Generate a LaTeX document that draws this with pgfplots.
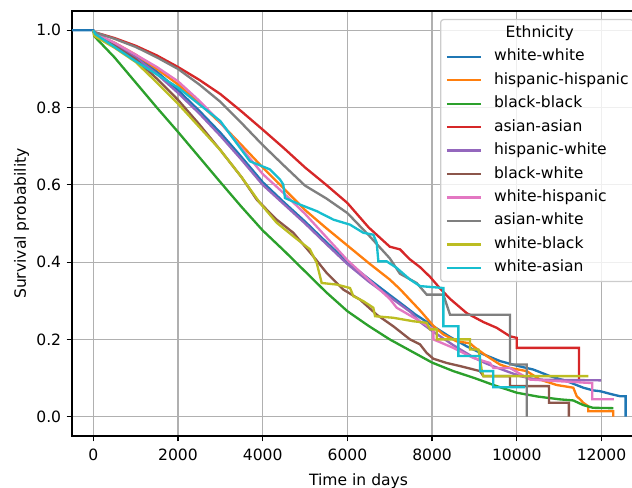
\documentclass[border=0pt]{standalone}
\usepackage{fontspec}
\setmainfont{DejaVu Sans}
\usepackage{pgfplots}
\pgfplotsset{compat=1.18}
\definecolor{c0}{HTML}{1F77B4}
\definecolor{c1}{HTML}{FF7F0E}
\definecolor{c2}{HTML}{2CA02C}
\definecolor{c3}{HTML}{D62728}
\definecolor{c4}{HTML}{9467BD}
\definecolor{c5}{HTML}{8C564B}
\definecolor{c6}{HTML}{E377C2}
\definecolor{c7}{HTML}{7F7F7F}
\definecolor{c8}{HTML}{BCBD22}
\definecolor{c9}{HTML}{17BECF}
\definecolor{gridc}{HTML}{B0B0B0}
\begin{document}
\fontsize{11.2bp}{13.4bp}\selectfont
\begin{tikzpicture}
\begin{axis}[
  name=ax,
  scale only axis,
  width=412.65bp, height=306bp,
  xmin=-503, xmax=13030, ymin=-0.05, ymax=1.05,
  xtick={0,2000,4000,6000,8000,10000,12000},
  ytick={0,0.2,0.4,0.6,0.8,1.0},
  scaled x ticks=false, scaled y ticks=false,
  /pgf/number format/assume math mode=true,
  xticklabel style={/pgf/number format/1000 sep={}, yshift=-1.5bp},
  yticklabel style={/pgf/number format/.cd, fixed, fixed zerofill, precision=1},
  xlabel style={yshift=-1.5bp},
  ylabel style={yshift=-2.5bp},
  grid=major,
  grid style={color=gridc, line width=0.9bp},
  axis line style={line width=0.9bp},
  tick style={black, line width=0.9bp},
  tick align=outside, major tick length=3.9bp,
  xtick pos=left, ytick pos=left,
  xlabel={Time in days}, ylabel={Survival probability},
  every axis plot/.append style={line width=1.68bp},
  legend image code/.code={\draw[#1, line width=1.68bp] (0bp,0bp) -- (24.5bp,0bp);},
  legend cell align=left,
  legend style={at={(axis description cs:0.6422,0.9812)}, anchor=north west,
    draw=black!20, line width=0.9bp, fill=white, fill opacity=0.8, text opacity=1,
    rounded corners=2bp, inner xsep=3.6bp, inner ysep=4.6bp,
    row sep=6.28bp, column sep=8.64bp,
    nodes={inner sep=0pt, text height=8.2bp, text depth=2.4bp}},
]
\addlegendimage{empty legend}
\addlegendentry{\hspace*{8.4bp}Ethnicity}
% white-white
\addplot[c0] coordinates {(-503,1)(0,1)(30,0.99)(500,0.965)(1000,0.935)(1500,0.893)(2000,0.845)(2500,0.792)(3000,0.735)(3500,0.672)(4000,0.607)(4500,0.555)(5000,0.505)(5500,0.452)(6000,0.40)(6500,0.357)(7000,0.315)(7242,0.295)(7600,0.265)(8030,0.234)(8400,0.208)(8817,0.182)(9200,0.162)(9603,0.144)(10000,0.132)(10390,0.122)(10784,0.105)(11178,0.092)(11570,0.075)(11806,0.068)(11965,0.066)(12279,0.057)(12437,0.053)(12570,0.053)(12570,0)};
\addlegendentry{white-white}
% hispanic-hispanic
\addplot[c1] coordinates {(0,1)(30,0.99)(500,0.968)(1000,0.937)(1500,0.9)(2000,0.86)(2500,0.812)(3000,0.76)(3500,0.703)(4000,0.645)(4500,0.59)(5000,0.535)(5500,0.488)(6000,0.443)(6500,0.398)(7000,0.355)(7242,0.33)(7500,0.3)(7715,0.275)(8030,0.235)(8265,0.213)(8580,0.195)(8895,0.19)(9000,0.18)(9289,0.157)(9603,0.135)(9840,0.126)(10233,0.118)(10548,0.096)(10942,0.082)(11334,0.075)(11414,0.053)(11493,0.045)(11570,0.036)(11688,0.027)(11688,0.014)(12279,0.014)(12279,0)};
\addlegendentry{hispanic-hispanic}
% black-black
\addplot[c2] coordinates {(0,1)(20,0.985)(500,0.93)(1000,0.865)(1500,0.8)(2000,0.737)(2500,0.672)(3000,0.607)(3500,0.543)(4000,0.482)(4500,0.43)(5000,0.376)(5500,0.322)(6000,0.273)(6500,0.235)(7000,0.2)(7500,0.17)(8000,0.14)(8500,0.118)(9000,0.1)(9500,0.08)(10000,0.062)(10500,0.052)(11000,0.045)(11334,0.042)(11570,0.03)(11800,0.023)(12279,0.022)};
\addlegendentry{black-black}
% asian-asian
\addplot[c3] coordinates {(0,1)(30,0.995)(500,0.98)(1000,0.96)(1500,0.935)(2000,0.905)(2500,0.872)(3000,0.835)(3500,0.79)(4000,0.743)(4500,0.695)(5000,0.645)(5500,0.6)(6000,0.553)(6500,0.49)(7000,0.44)(7242,0.433)(7478,0.407)(7715,0.387)(7951,0.362)(8187,0.332)(8423,0.305)(8817,0.268)(9210,0.245)(9525,0.23)(9840,0.208)(10000,0.204)(10000,0.178)(11470,0.178)(11470,0.089)};
\addlegendentry{asian-asian}
% hispanic-white
\addplot[c4] coordinates {(0,1)(30,0.99)(500,0.962)(1000,0.93)(1500,0.887)(2000,0.838)(2500,0.785)(3000,0.727)(3500,0.665)(4000,0.6)(4500,0.55)(5000,0.5)(5500,0.447)(6000,0.395)(6500,0.35)(7000,0.31)(7500,0.27)(7715,0.245)(8000,0.222)(8502,0.185)(9000,0.152)(9289,0.137)(9700,0.12)(10076,0.105)(10470,0.096)(11990,0.094)};
\addlegendentry{hispanic-white}
% black-white
\addplot[c5] coordinates {(0,1)(30,0.99)(500,0.96)(1000,0.925)(1500,0.875)(2000,0.82)(2500,0.757)(3000,0.69)(3500,0.62)(3858,0.562)(4330,0.51)(4723,0.476)(5195,0.415)(5511,0.372)(5903,0.329)(6297,0.303)(6692,0.264)(7084,0.234)(7478,0.2)(7715,0.187)(7872,0.165)(8030,0.15)(8345,0.139)(8660,0.131)(9131,0.118)(9210,0.105)(9840,0.105)(9840,0.079)(10760,0.079)(10760,0.036)(11230,0.036)(11230,0)};
\addlegendentry{black-white}
% white-hispanic
\addplot[c6] coordinates {(0,1)(30,0.993)(500,0.968)(1000,0.937)(1500,0.905)(2000,0.868)(2500,0.818)(3000,0.762)(3500,0.695)(4000,0.628)(4500,0.578)(5000,0.525)(5500,0.465)(6000,0.405)(6500,0.355)(7000,0.305)(7164,0.282)(7715,0.247)(8030,0.226)(8030,0.2)(8502,0.178)(8974,0.152)(9367,0.139)(9446,0.126)(9840,0.126)(10312,0.096)(11780,0.087)(11780,0.045)(12290,0.045)};
\addlegendentry{white-hispanic}
% asian-white
\addplot[c7] coordinates {(0,1)(30,0.995)(500,0.978)(1000,0.957)(1500,0.93)(2000,0.9)(2500,0.86)(3000,0.815)(3500,0.76)(4000,0.703)(4500,0.65)(5000,0.598)(5500,0.565)(6000,0.527)(6500,0.47)(7000,0.41)(7240,0.37)(7636,0.346)(7872,0.316)(8265,0.316)(8344,0.29)(8423,0.264)(9840,0.264)(9840,0.135)(10233,0.135)(10233,0)};
\addlegendentry{asian-white}
% white-black
\addplot[c8] coordinates {(0,1)(30,0.985)(500,0.955)(1000,0.918)(1500,0.865)(2000,0.81)(2500,0.75)(3000,0.69)(3500,0.62)(3936,0.553)(4330,0.502)(4723,0.467)(5117,0.433)(5275,0.398)(5393,0.346)(5747,0.342)(6062,0.333)(6140,0.312)(6376,0.299)(6612,0.282)(6653,0.26)(7084,0.256)(7556,0.247)(7872,0.243)(7950,0.226)(8108,0.226)(8108,0.2)(8895,0.2)(8895,0.174)(9092,0.174)(9170,0.122)(9210,0.105)(11690,0.105)};
\addlegendentry{white-black}
% white-asian
\addplot[c9] coordinates {(0,1)(50,0.99)(1000,0.92)(2000,0.852)(3000,0.765)(3700,0.661)(4172,0.64)(4408,0.614)(4486,0.601)(4526,0.566)(4880,0.549)(5275,0.532)(5669,0.51)(6062,0.497)(6376,0.476)(6612,0.471)(6692,0.45)(6731,0.402)(6928,0.402)(7164,0.385)(7478,0.355)(7715,0.338)(8267,0.333)(8267,0.234)(8620,0.234)(8620,0.157)(9131,0.157)(9131,0.118)(9445,0.118)(9445,0.076)(10194,0.076)};
\addlegendentry{white-asian}
\end{axis}
\pgfresetboundingbox
\path[use as bounding box] ([xshift=-51.84bp,yshift=-36.72bp]ax.south west) rectangle ([xshift=403.2bp,yshift=7.92bp]ax.north west);
\end{tikzpicture}
\end{document}
